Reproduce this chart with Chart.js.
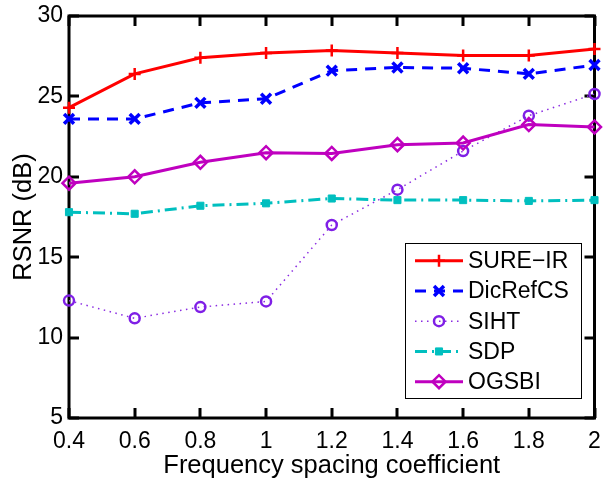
<!DOCTYPE html>
<html>
<head>
<meta charset="utf-8">
<script src="https://cdn.jsdelivr.net/npm/chart.js@4/dist/chart.umd.min.js"></script>
<style>
  html, body { margin: 0; padding: 0; background: #fff; }
  #wrap { width: 605px; height: 481px; }
</style>
</head>
<body>
<div id="wrap"><canvas id="rsnrChart"></canvas></div>
<script>
const spacing = [0.4, 0.6, 0.8, 1.0, 1.2, 1.4, 1.6, 1.8, 2.0];
const sureIR = [24.3, 26.4, 27.4, 27.7, 27.85, 27.7, 27.55, 27.55, 27.95];
const dicRefCS = [23.6, 23.6, 24.6, 24.85, 26.6, 26.8, 26.75, 26.4, 26.95];
const siht = [12.3, 11.2, 11.9, 12.25, 17.0, 19.2, 21.6, 23.8, 25.15];
const sdp = [17.8, 17.7, 18.2, 18.35, 18.65, 18.55, 18.55, 18.5, 18.55];
const ogsbi = [19.6, 20.0, 20.9, 21.5, 21.45, 22.0, 22.1, 23.25, 23.1];
const xTicks = [0.4, 0.6, 0.8, 1, 1.2, 1.4, 1.6, 1.8, 2];
const yTicks = [5, 10, 15, 20, 25, 30];

const FONT = 'Liberation Sans, Arial, Helvetica, sans-serif';

function pts(values) {
    return spacing.map((x, i) => ({ x: x, y: values[i] }));
}

// matlab style box with inward ticks
const frame = {
    id: 'frame',
    beforeDatasetsDraw(chart) {
        const { ctx, chartArea: a, scales } = chart;
        ctx.save();
        ctx.strokeStyle = '#000';
        ctx.lineWidth = 3;
        ctx.lineCap = 'butt';
        ctx.beginPath();
        xTicks.forEach(v => {
            const px = Math.round(scales.x.getPixelForValue(v));
            ctx.moveTo(px, a.bottom); ctx.lineTo(px, a.bottom - 10);
            ctx.moveTo(px, a.top); ctx.lineTo(px, a.top + 10);
        });
        yTicks.forEach(v => {
            const py = Math.round(scales.y.getPixelForValue(v));
            ctx.moveTo(a.left, py); ctx.lineTo(a.left + 10, py);
            ctx.moveTo(a.right, py); ctx.lineTo(a.right - 10, py);
        });
        ctx.stroke();
        ctx.strokeRect(a.left, a.top, a.right - a.left, a.bottom - a.top);
        ctx.restore();
    }
};

const boxLegend = {
    id: 'boxLegend',
    afterDraw(chart) {
        const ctx = chart.ctx;
        const box = { left: 405, top: 243, right: 581, bottom: 398 };
        ctx.save();
        ctx.fillStyle = '#fff';
        ctx.fillRect(box.left, box.top, box.right - box.left, box.bottom - box.top);
        ctx.strokeStyle = '#000';
        ctx.lineWidth = 1;
        ctx.strokeRect(box.left + 0.5, box.top + 0.5, box.right - box.left, box.bottom - box.top);
        chart.data.datasets.forEach((ds, i) => {
            const y = 260.7 + i * 30.25;
            ctx.save();
            ctx.strokeStyle = ds.borderColor;
            ctx.lineWidth = ds.borderWidth;
            ctx.setLineDash(ds.borderDash || []);
            ctx.beginPath();
            ctx.moveTo(415, y);
            ctx.lineTo(463, y);
            ctx.stroke();
            ctx.restore();
            const o = chart.getDatasetMeta(i).data[0].options;
            ctx.save();
            ctx.setLineDash([]);
            ctx.strokeStyle = o.borderColor;
            ctx.fillStyle = o.backgroundColor;
            ctx.lineWidth = o.borderWidth;
            Chart.helpers.drawPoint(ctx, o, 439, y);
            ctx.restore();
            ctx.fillStyle = '#000';
            ctx.font = '23px ' + FONT;
            ctx.textBaseline = 'middle';
            ctx.fillText(ds.label, 468, y + 1);
        });
        ctx.restore();
    }
};

new Chart(document.getElementById('rsnrChart'), {
    type: 'line',
    data: {
        datasets: [{
            label: 'SURE\u2212IR',
            data: pts(sureIR),
            borderColor: '#ff0000',
            borderWidth: 3,
            pointStyle: 'cross',
            pointRadius: 6,
            pointBorderWidth: 2.5,
            pointBorderColor: '#ff0000',
            pointBackgroundColor: '#ff0000',
            order: 4
        }, {
            label: 'DicRefCS',
            data: pts(dicRefCS),
            borderColor: '#0000ff',
            borderWidth: 3,
            borderDash: [11, 8],
            pointStyle: 'crossRot',
            pointRadius: 7,
            pointBorderWidth: 3.5,
            pointBorderColor: '#0000ff',
            pointBackgroundColor: '#0000ff',
            order: 3
        }, {
            label: 'SIHT',
            data: pts(siht),
            borderColor: '#8a2be2',
            borderWidth: 1.5,
            borderDash: [1.5, 4.5],
            pointStyle: 'circle',
            pointRadius: 5,
            pointBorderWidth: 2.5,
            pointBorderColor: '#7f1fe6',
            pointBackgroundColor: 'rgba(0,0,0,0)',
            order: 2
        }, {
            label: 'SDP',
            data: pts(sdp),
            borderColor: '#00bfbf',
            borderWidth: 3,
            borderDash: [12, 5, 2, 5],
            pointStyle: 'rect',
            pointRadius: 5,
            pointBorderWidth: 1,
            pointBorderColor: '#00bfbf',
            pointBackgroundColor: '#00bfbf',
            order: 1
        }, {
            label: 'OGSBI',
            data: pts(ogsbi),
            borderColor: '#bf00bf',
            borderWidth: 3,
            pointStyle: 'rectRot',
            pointRadius: 6.5,
            pointBorderWidth: 2.5,
            pointBorderColor: '#bf00bf',
            pointBackgroundColor: 'rgba(0,0,0,0)',
            order: 0
        }]
    },
    options: {
        responsive: true,
        maintainAspectRatio: false,
        animation: false,
        clip: false,
        layout: { padding: { top: 16, right: 7, left: 0, bottom: 0 } },
        elements: { line: { tension: 0 } },
        plugins: {
            legend: { display: false },
            tooltip: { enabled: false }
        },
        scales: {
            x: {
                type: 'linear',
                min: 0.4,
                max: 2,
                afterBuildTicks: s => { s.ticks = xTicks.map(v => ({ value: v })); },
                afterFit: s => { s.height = 63; s.paddingLeft = 0; s.paddingRight = 0; },
                grid: { display: false, drawTicks: false },
                border: { display: false },
                ticks: {
                    color: '#000',
                    padding: 10,
                    maxRotation: 0,
                    autoSkip: false,
                    font: { family: FONT, size: 23 },
                    callback: v => String(parseFloat(v.toFixed(1)))
                },
                title: {
                    display: true,
                    text: 'Frequency spacing coefficient',
                    color: '#000',
                    padding: { top: 0, bottom: 0 },
                    font: { family: FONT, size: 25.5 }
                }
            },
            y: {
                min: 5,
                max: 30,
                afterBuildTicks: s => { s.ticks = yTicks.map(v => ({ value: v })); },
                afterFit: s => { s.width = 69; s.paddingTop = 0; s.paddingBottom = 0; },
                grid: { display: false, drawTicks: false },
                border: { display: false },
                ticks: {
                    color: '#000',
                    padding: 6,
                    autoSkip: false,
                    font: { family: FONT, size: 23 }
                },
                title: {
                    display: true,
                    text: 'RSNR (dB)',
                    color: '#000',
                    padding: { top: 9, bottom: 0 },
                    font: { family: FONT, size: 25.5 }
                }
            }
        }
    },
    plugins: [frame, boxLegend]
});
</script>
</body>
</html>
